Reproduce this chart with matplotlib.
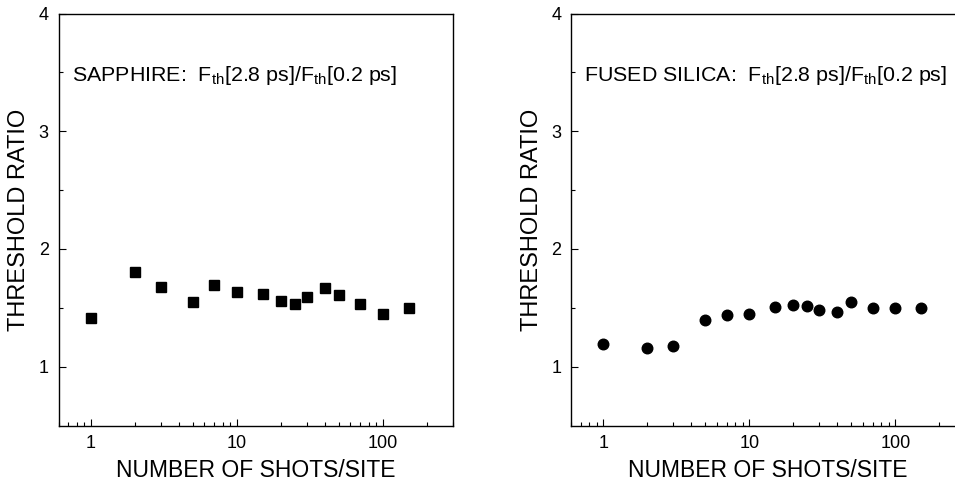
import numpy as np
import matplotlib; matplotlib.use("Agg")
import matplotlib.pyplot as plt
from matplotlib.ticker import LogLocator, FixedLocator, NullFormatter

plt.rcParams["font.family"] = ["Liberation Sans", "DejaVu Sans"]
plt.rcParams["mathtext.fontset"] = "custom"
plt.rcParams["mathtext.rm"] = "Liberation Sans"
plt.rcParams["mathtext.it"] = "Liberation Sans"

# shots per site (same for both materials)
shots = [1, 2, 3, 5, 7, 10, 15, 20, 25, 30, 40, 50, 70, 100, 150]
sapphire_ratio = [1.41, 1.80, 1.675, 1.55, 1.695, 1.635, 1.62, 1.555, 1.53, 1.59,
                  1.665, 1.61, 1.535, 1.445, 1.50]
silica_ratio = [1.195, 1.16, 1.175, 1.40, 1.44, 1.45, 1.51, 1.52, 1.515, 1.48,
                1.465, 1.55, 1.50, 1.50, 1.495]

panels = [
    ("SAPPHIRE:  F$_{\\mathrm{th}}$[2.8 ps]/F$_{\\mathrm{th}}$[0.2 ps]", sapphire_ratio, "s"),
    ("FUSED SILICA:  F$_{\\mathrm{th}}$[2.8 ps]/F$_{\\mathrm{th}}$[0.2 ps]", silica_ratio, "o"),
]

W, H = 955, 488
fig = plt.figure(figsize=(W/100, H/100), dpi=100)
rects = [(58.5, 13.5, 394, 412), (571, 13.5, 394, 412)]

for (txt, vals, mk), (x0, y0, w, h) in zip(panels, rects):
    ax = fig.add_axes([x0/W, 1-(y0+h)/H, w/W, h/H])
    ax.plot(shots, vals, ls="none", marker=mk, ms=7.3 if mk == "s" else 7.6,
            color="black", mec="black")
    ax.set_xscale("log")
    ax.set_xlim(0.6, 300)
    ax.set_ylim(0.5, 4)
    ax.set_yticks([1, 2, 3, 4])
    ax.yaxis.set_minor_locator(FixedLocator([1.5, 2.5, 3.5]))
    ax.xaxis.set_minor_locator(LogLocator(base=10, subs=np.arange(2, 10), numticks=10))
    ax.xaxis.set_minor_formatter(NullFormatter())
    ax.set_xticks([1, 10, 100])
    ax.set_xticklabels(["1", "10", "100"])
    ax.tick_params(which="both", direction="in", labelsize=13, width=0.8)
    ax.tick_params(which="major", length=5, pad=7)
    ax.tick_params(which="minor", length=3)
    for s in ax.spines.values():
        s.set_linewidth(1.0)
    ax.set_xlabel("NUMBER OF SHOTS/SITE", fontsize=16.5, labelpad=5)
    ax.set_ylabel("THRESHOLD RATIO", fontsize=17, labelpad=6)
    ax.text(0.034, 3.47, txt, transform=ax.get_yaxis_transform(), fontsize=15.4,
            ha="left", va="center")

fig.savefig("out.png", dpi=100)
